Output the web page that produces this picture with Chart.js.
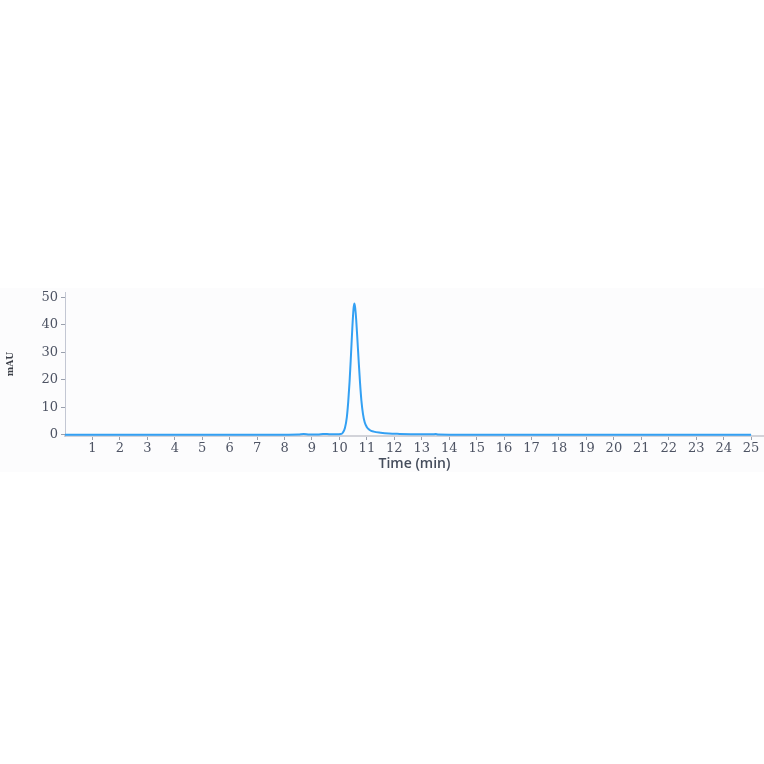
<!DOCTYPE html>
<html>
<head>
<meta charset="utf-8">
<script src="https://cdn.jsdelivr.net/npm/chart.js@4/dist/chart.umd.min.js"></script>
<style>
  html, body { margin: 0; padding: 0; background: #ffffff; }
  #wrap { position: absolute; left: 0; top: 288px; width: 764px; height: 184px; background: #fcfcfd; }
</style>
</head>
<body>
<div id="wrap"><canvas id="chrom"></canvas></div>
<script>
// retention time (min) and absorbance (mAU)
const times = [0, 1, 2, 3, 4, 5, 6, 7, 8, 8.5, 8.7, 8.9, 9.2, 9.4, 9.55, 9.7, 9.9, 10.05, 10.12, 10.2, 10.27, 10.32, 10.37, 10.42, 10.47, 10.51, 10.54, 10.57, 10.61, 10.65, 10.7, 10.75, 10.8, 10.86, 10.92, 11.0, 11.1, 11.25, 11.5, 11.8, 12.2, 12.6, 13.0, 13.4, 13.5, 13.6, 14, 15, 17, 19, 21, 23, 25];
const mau   = [0.1, 0.1, 0.1, 0.1, 0.1, 0.1, 0.1, 0.1, 0.1, 0.15, 0.35, 0.15, 0.15, 0.3, 0.35, 0.2, 0.2, 0.3, 0.8, 2.5, 6.5, 12, 19.5, 29, 39, 45.5, 47.8, 46.5, 42, 35.5, 27, 19, 12.5, 7.5, 4.6, 2.8, 1.8, 1.2, 0.8, 0.5, 0.35, 0.25, 0.2, 0.2, 0.3, 0.15, 0.1, 0.1, 0.1, 0.1, 0.1, 0.1, 0.1];
const xTicks = [1, 2, 3, 4, 5, 6, 7, 8, 9, 10, 11, 12, 13, 14, 15, 16, 17, 18, 19, 20, 21, 22, 23, 24, 25];
const yTicks = [0, 10, 20, 30, 40, 50];

const points = times.map((t, i) => ({ x: t, y: mau[i] }));
const tickFont = { family: "'DejaVu Serif'", size: 13 };
const tickColor = '#4e5464';

new Chart(document.getElementById('chrom'), {
    type: 'line',
    data: {
        datasets: [{
            label: 'Absorbance',
            data: points,
            borderColor: '#33a0f3',
            borderWidth: 2,
            pointRadius: 0,
            fill: false,
            cubicInterpolationMode: 'monotone'
        }]
    },
    options: {
        responsive: true,
        maintainAspectRatio: false,
        animation: false,
        layout: { padding: { top: 4, right: 0, left: 0, bottom: 0 } },
        plugins: {
            legend: { display: false },
            tooltip: { enabled: false }
        },
        scales: {
            x: {
                type: 'linear',
                min: 0,
                max: 25.47,
                afterBuildTicks: (scale) => {
                    scale.ticks = xTicks.map(v => ({ value: v }));
                },
                afterFit: (scale) => {
                    scale.height = 36;
                    scale.paddingLeft = 0;
                    scale.paddingRight = 0;
                },
                ticks: {
                    font: tickFont,
                    color: tickColor,
                    padding: 1,
                    maxRotation: 0,
                    autoSkip: false
                },
                grid: {
                    drawOnChartArea: false,
                    drawTicks: true,
                    tickLength: 4,
                    tickColor: '#9aa0ad'
                },
                border: { color: '#d2d3d9', width: 2 },
                title: {
                    display: true,
                    text: 'Time (min)',
                    color: '#454d5c',
                    font: { family: "'Open Sans'", size: 14, weight: '600' },
                    padding: { top: 0, bottom: 0 }
                }
            },
            y: {
                min: -0.4,
                max: 52,
                afterBuildTicks: (scale) => {
                    scale.ticks = yTicks.map(v => ({ value: v }));
                },
                afterFit: (scale) => {
                    scale.width = 65;
                    scale.paddingTop = 0;
                    scale.paddingBottom = 0;
                },
                ticks: {
                    font: tickFont,
                    color: tickColor,
                    padding: 3
                },
                grid: {
                    drawOnChartArea: false,
                    drawTicks: true,
                    tickLength: 4,
                    tickColor: '#9aa0ad'
                },
                border: { color: '#c3c7d3', width: 1, dash: [1, 1] },
                title: {
                    display: true,
                    text: 'mAU',
                    color: '#3b3f48',
                    font: { family: "'DejaVu Serif Condensed'", size: 10, weight: 'bold' },
                    padding: { top: 4, bottom: 0 }
                }
            }
        }
    }
});
</script>
</body>
</html>
